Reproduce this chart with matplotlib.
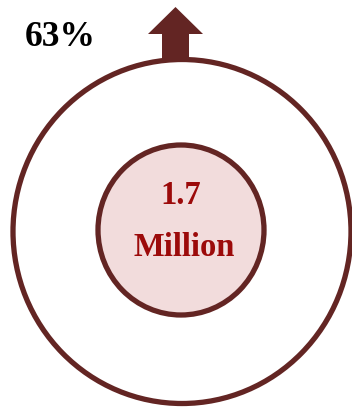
import matplotlib.pyplot as plt
import matplotlib.patches as patches

# chart content
pct_label = "63%"
value_lines = ["1.7", "Million"]

edge_color = "#632523"
fill_color = "#f2dcdc"
text_red = "#9c0a0a"

W, H = 352, 408
fig = plt.figure(figsize=(W / 100, H / 100), dpi=100)
ax = fig.add_axes([0, 0, 1, 1])
ax.set_xlim(0, W)
ax.set_ylim(H, 0)
ax.axis("off")

# outer ring (source image is slightly stretched vertically)
outer = patches.Ellipse((182, 231.5), 338, 344, facecolor="white",
                        edgecolor=edge_color, linewidth=3.8)
ax.add_patch(outer)

# inner filled circle
inner = patches.Ellipse((181, 230), 166, 170, facecolor=fill_color,
                        edgecolor=edge_color, linewidth=3.8)
ax.add_patch(inner)

# up arrow sitting on top of the ring
arrow = patches.FancyArrow(175.5, 62, 0, -55, width=27, head_width=55, head_length=27,
                           length_includes_head=True, color=edge_color, linewidth=0)
ax.add_patch(arrow)

serif = ["Liberation Serif", "DejaVu Serif"]
ax.text(25, 38, pct_label, fontsize=25.5, fontweight="bold", family=serif,
        color="black", ha="left", va="center")
ax.text(181, 195, value_lines[0], fontsize=23.5, fontweight="bold", family=serif,
        color=text_red, ha="center", va="center")
ax.text(184, 247, value_lines[1], fontsize=23.5, fontweight="bold", family=serif,
        color=text_red, ha="center", va="center")

fig.savefig("out.png", dpi=100)
